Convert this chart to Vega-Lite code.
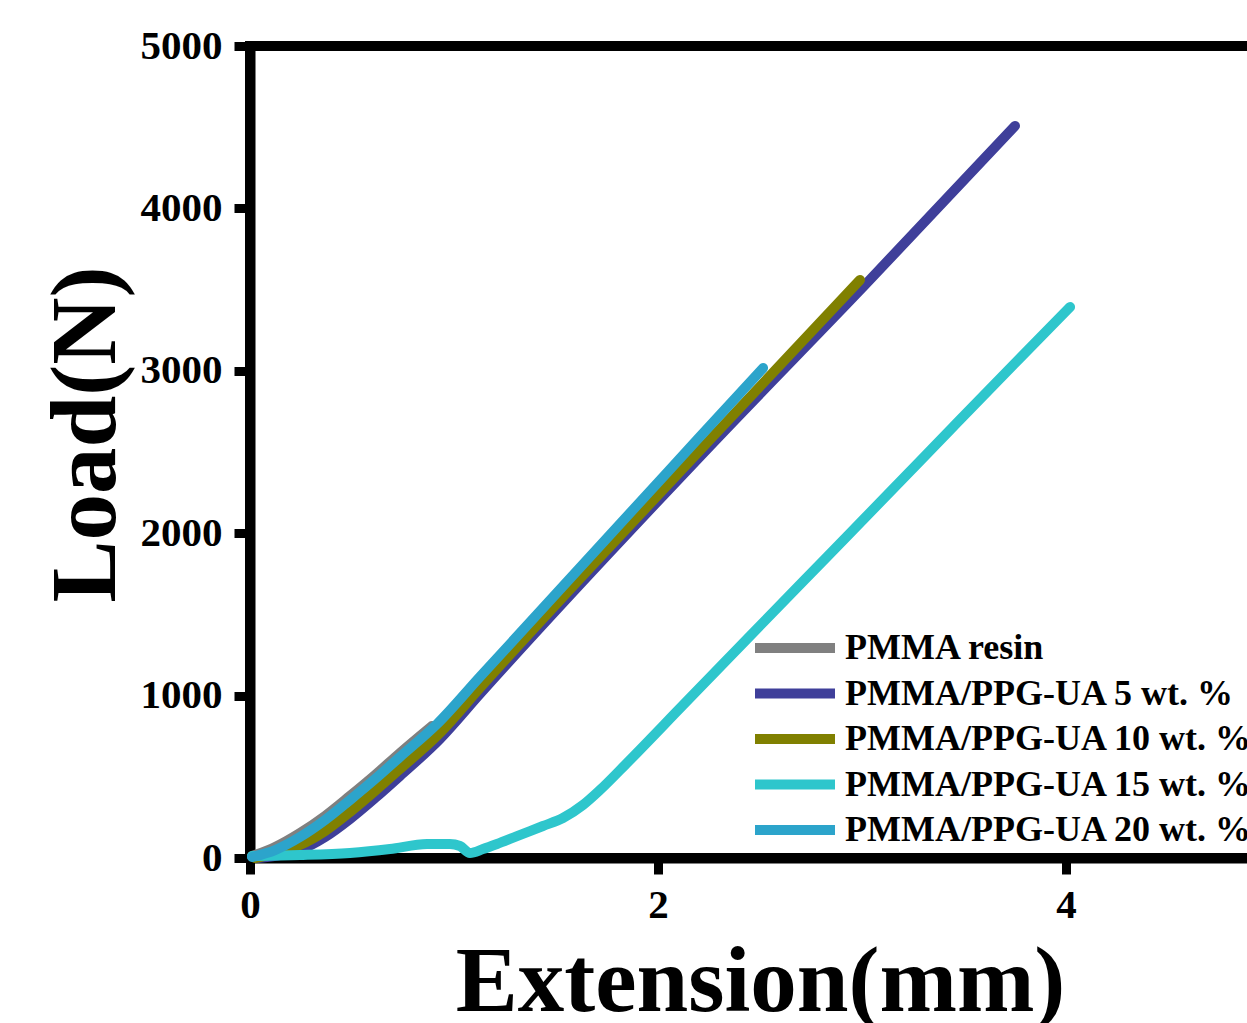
{
  "$schema": "https://vega.github.io/schema/vega-lite/v6.json",
  "autosize": "none",
  "padding": {"left": 250, "top": 46, "right": 0, "bottom": 165},
  "width": 1020,
  "height": 812,
  "background": "white",
  "config": {
    "font": "Liberation Serif",
    "view": {"stroke": "black", "strokeWidth": 10},
    "axis": {
      "domainColor": "black", "domainWidth": 10,
      "tickColor": "black", "tickWidth": 9, "tickSize": 16,
      "labelFont": "Liberation Serif", "labelFontSize": 41, "labelFontWeight": "bold", "labelColor": "black",
      "titleFont": "Liberation Serif", "titleFontSize": 93, "titleFontWeight": "bold", "titleColor": "black",
      "grid": false, "labelFlush": false, "labelOverlap": false, "labelBound": false
    }
  },
  "data": {
    "values": [
      {"series": "PMMA resin", "ext": 0.010, "load": 12},
      {"series": "PMMA resin", "ext": 0.123, "load": 68},
      {"series": "PMMA resin", "ext": 0.245, "load": 154},
      {"series": "PMMA resin", "ext": 0.368, "load": 259},
      {"series": "PMMA resin", "ext": 0.490, "load": 382},
      {"series": "PMMA resin", "ext": 0.613, "load": 511},
      {"series": "PMMA resin", "ext": 0.735, "load": 647},
      {"series": "PMMA resin", "ext": 0.892, "load": 813},

      {"series": "PMMA/PPG-UA 5 wt. %", "ext": 0.039, "load": 0},
      {"series": "PMMA/PPG-UA 5 wt. %", "ext": 0.147, "load": 18},
      {"series": "PMMA/PPG-UA 5 wt. %", "ext": 0.245, "load": 49},
      {"series": "PMMA/PPG-UA 5 wt. %", "ext": 0.368, "load": 129},
      {"series": "PMMA/PPG-UA 5 wt. %", "ext": 0.490, "load": 240},
      {"series": "PMMA/PPG-UA 5 wt. %", "ext": 0.613, "load": 369},
      {"series": "PMMA/PPG-UA 5 wt. %", "ext": 0.735, "load": 505},
      {"series": "PMMA/PPG-UA 5 wt. %", "ext": 0.931, "load": 733},
      {"series": "PMMA/PPG-UA 5 wt. %", "ext": 1.127, "load": 1010},
      {"series": "PMMA/PPG-UA 5 wt. %", "ext": 2.255, "load": 2537},
      {"series": "PMMA/PPG-UA 5 wt. %", "ext": 3.015, "load": 3529},
      {"series": "PMMA/PPG-UA 5 wt. %", "ext": 3.750, "load": 4508},

      {"series": "PMMA/PPG-UA 10 wt. %", "ext": 0.025, "load": 0},
      {"series": "PMMA/PPG-UA 10 wt. %", "ext": 0.147, "load": 37},
      {"series": "PMMA/PPG-UA 10 wt. %", "ext": 0.245, "load": 80},
      {"series": "PMMA/PPG-UA 10 wt. %", "ext": 0.368, "load": 166},
      {"series": "PMMA/PPG-UA 10 wt. %", "ext": 0.490, "load": 283},
      {"series": "PMMA/PPG-UA 10 wt. %", "ext": 0.613, "load": 413},
      {"series": "PMMA/PPG-UA 10 wt. %", "ext": 0.735, "load": 548},
      {"series": "PMMA/PPG-UA 10 wt. %", "ext": 0.931, "load": 770},
      {"series": "PMMA/PPG-UA 10 wt. %", "ext": 1.127, "load": 1047},
      {"series": "PMMA/PPG-UA 10 wt. %", "ext": 2.240, "load": 2556},
      {"series": "PMMA/PPG-UA 10 wt. %", "ext": 2.990, "load": 3559},

      {"series": "PMMA/PPG-UA 15 wt. %", "ext": 0.010, "load": 12},
      {"series": "PMMA/PPG-UA 15 wt. %", "ext": 0.245, "load": 18},
      {"series": "PMMA/PPG-UA 15 wt. %", "ext": 0.490, "load": 31},
      {"series": "PMMA/PPG-UA 15 wt. %", "ext": 0.686, "load": 55},
      {"series": "PMMA/PPG-UA 15 wt. %", "ext": 0.868, "load": 86},
      {"series": "PMMA/PPG-UA 15 wt. %", "ext": 0.980, "load": 86},
      {"series": "PMMA/PPG-UA 15 wt. %", "ext": 1.029, "load": 74},
      {"series": "PMMA/PPG-UA 15 wt. %", "ext": 1.078, "load": 31},
      {"series": "PMMA/PPG-UA 15 wt. %", "ext": 1.142, "load": 55},
      {"series": "PMMA/PPG-UA 15 wt. %", "ext": 1.211, "load": 86},
      {"series": "PMMA/PPG-UA 15 wt. %", "ext": 1.309, "load": 135},
      {"series": "PMMA/PPG-UA 15 wt. %", "ext": 1.436, "load": 197},
      {"series": "PMMA/PPG-UA 15 wt. %", "ext": 1.534, "load": 246},
      {"series": "PMMA/PPG-UA 15 wt. %", "ext": 1.632, "load": 326},
      {"series": "PMMA/PPG-UA 15 wt. %", "ext": 1.716, "load": 419},
      {"series": "PMMA/PPG-UA 15 wt. %", "ext": 1.848, "load": 585},
      {"series": "PMMA/PPG-UA 15 wt. %", "ext": 2.123, "load": 942},
      {"series": "PMMA/PPG-UA 15 wt. %", "ext": 2.451, "load": 1367},
      {"series": "PMMA/PPG-UA 15 wt. %", "ext": 2.828, "load": 1854},
      {"series": "PMMA/PPG-UA 15 wt. %", "ext": 3.123, "load": 2235},
      {"series": "PMMA/PPG-UA 15 wt. %", "ext": 3.446, "load": 2654},
      {"series": "PMMA/PPG-UA 15 wt. %", "ext": 3.775, "load": 3079},
      {"series": "PMMA/PPG-UA 15 wt. %", "ext": 4.020, "load": 3393},

      {"series": "PMMA/PPG-UA 20 wt. %", "ext": 0.010, "load": 6},
      {"series": "PMMA/PPG-UA 20 wt. %", "ext": 0.123, "load": 49},
      {"series": "PMMA/PPG-UA 20 wt. %", "ext": 0.245, "load": 129},
      {"series": "PMMA/PPG-UA 20 wt. %", "ext": 0.368, "load": 234},
      {"series": "PMMA/PPG-UA 20 wt. %", "ext": 0.490, "load": 357},
      {"series": "PMMA/PPG-UA 20 wt. %", "ext": 0.613, "load": 486},
      {"series": "PMMA/PPG-UA 20 wt. %", "ext": 0.735, "load": 622},
      {"series": "PMMA/PPG-UA 20 wt. %", "ext": 0.917, "load": 825},
      {"series": "PMMA/PPG-UA 20 wt. %", "ext": 1.127, "load": 1115},
      {"series": "PMMA/PPG-UA 20 wt. %", "ext": 2.191, "load": 2574},
      {"series": "PMMA/PPG-UA 20 wt. %", "ext": 2.515, "load": 3017}
    ]
  },
  "mark": {"type": "line", "strokeWidth": 10, "strokeCap": "round", "strokeJoin": "round", "interpolate": "monotone"},
  "encoding": {
    "x": {
      "field": "ext", "type": "quantitative",
      "scale": {"domain": [0, 5], "nice": false, "zero": false},
      "axis": {"values": [0, 2, 4], "format": "d", "title": "Extension(mm)", "labelPadding": 11, "titlePadding": 12}
    },
    "y": {
      "field": "load", "type": "quantitative",
      "scale": {"domain": [0, 5000], "nice": false},
      "axis": {"values": [0, 1000, 2000, 3000, 4000, 5000], "format": "d", "title": "Load(N)", "labelPadding": 12, "titlePadding": 6, "titleY": 388}
    },
    "color": {
      "field": "series", "type": "nominal",
      "scale": {
        "domain": ["PMMA resin", "PMMA/PPG-UA 5 wt. %", "PMMA/PPG-UA 10 wt. %", "PMMA/PPG-UA 15 wt. %", "PMMA/PPG-UA 20 wt. %"],
        "range": ["#808080", "#3f3f9a", "#808000", "#2ec6cc", "#2ca4cb"]
      },
      "legend": {
        "title": null, "orient": "none", "legendX": 505, "legendY": 577,
        "symbolType": "M-2,0H2", "symbolSize": 1600, "symbolStrokeWidth": 10, "symbolOffset": 15,
        "labelFont": "Liberation Serif", "labelFontSize": 36, "labelFontWeight": "bold", "labelColor": "black",
        "labelOffset": 25, "rowPadding": 0.5, "padding": 0, "labelLimit": 0, "symbolOpacity": 1
      }
    }
  }
}
